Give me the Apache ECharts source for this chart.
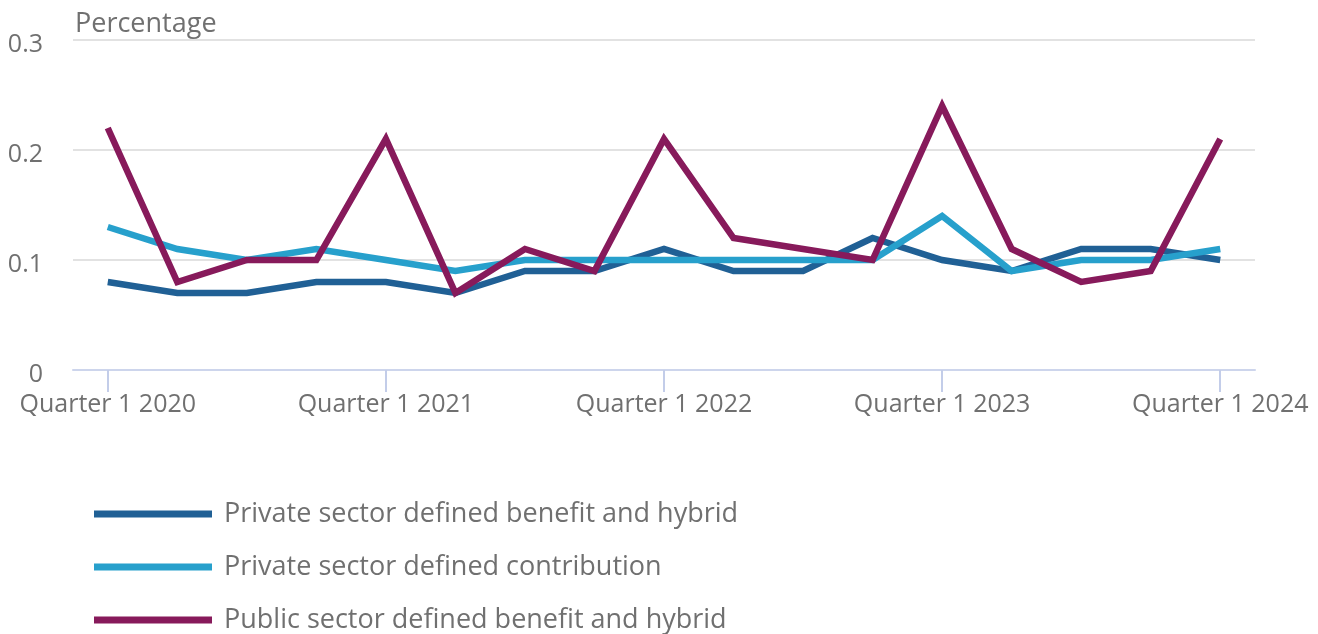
<!DOCTYPE html>
<html>
<head>
<meta charset="utf-8">
<script src="https://cdn.jsdelivr.net/npm/echarts@6/dist/echarts.min.js"></script>
<style>
  html, body { margin: 0; padding: 0; background: #fff; }
  #chart { width: 1318px; height: 634px; }
</style>
</head>
<body>
<div id="chart"></div>
<script>
// quarters Q1 2020 .. Q1 2024
const quarters = [
  'Quarter 1 2020', 'Quarter 2 2020', 'Quarter 3 2020', 'Quarter 4 2020',
  'Quarter 1 2021', 'Quarter 2 2021', 'Quarter 3 2021', 'Quarter 4 2021',
  'Quarter 1 2022', 'Quarter 2 2022', 'Quarter 3 2022', 'Quarter 4 2022',
  'Quarter 1 2023', 'Quarter 2 2023', 'Quarter 3 2023', 'Quarter 4 2023',
  'Quarter 1 2024'
];
const privateDb = [0.08, 0.07, 0.07, 0.08, 0.08, 0.07, 0.09, 0.09, 0.11, 0.09, 0.09, 0.12, 0.10, 0.09, 0.11, 0.11, 0.10];
const privateDc = [0.13, 0.11, 0.10, 0.11, 0.10, 0.09, 0.10, 0.10, 0.10, 0.10, 0.10, 0.10, 0.14, 0.09, 0.10, 0.10, 0.11];
const publicDb  = [0.22, 0.08, 0.10, 0.10, 0.21, 0.07, 0.11, 0.09, 0.21, 0.12, 0.11, 0.10, 0.24, 0.11, 0.08, 0.09, 0.21];
const yTicks = [0, 0.1, 0.2, 0.3];

const names = [
  'Private sector defined benefit and hybrid',
  'Private sector defined contribution',
  'Public sector defined benefit and hybrid'
];
const colors = ['#206095', '#27a0cc', '#871a5b'];
const textColor = '#707070';
const font = '"Open Sans", "Noto Sans", sans-serif';

const chart = echarts.init(document.getElementById('chart'));

function lineSeries(name, data, color) {
  return {
    name,
    type: 'line',
    data,
    symbol: 'none',
    color,
    lineStyle: { width: 6.5, color, join: 'miter' },
    emphasis: { disabled: true }
  };
}

chart.setOption({
  animation: false,
  textStyle: { fontFamily: font },
  title: {
    text: 'Percentage',
    left: 70,
    top: 6,
    textStyle: { color: textColor, fontSize: 27, fontWeight: 'normal', fontFamily: font }
  },
  grid: { left: 73, right: 63, top: 40, height: 330, containLabel: false },
  xAxis: {
    type: 'category',
    data: quarters,
    boundaryGap: true,
    axisLine: { lineStyle: { color: '#cdd5ec', width: 2 } },
    axisTick: {
      show: true,
      alignWithLabel: true,
      interval: 3,
      length: 22,
      lineStyle: { color: '#c3cde9', width: 2 }
    },
    axisLabel: {
      interval: 3,
      color: textColor,
      fontSize: 25,
      fontFamily: font,
      margin: 22,
      showMinLabel: true,
      showMaxLabel: true
    },
    splitLine: { show: false }
  },
  yAxis: {
    type: 'value',
    min: yTicks[0],
    max: yTicks[yTicks.length - 1],
    interval: 0.1,
    axisLine: { show: false },
    axisTick: { show: false },
    axisLabel: {
      color: textColor,
      fontSize: 25,
      fontFamily: font,
      margin: 30,
      verticalAlign: 'top',
      lineHeight: 10
    },
    splitLine: { lineStyle: { color: '#e2e2e2', width: 2 } }
  },
  legend: {
    orient: 'vertical',
    left: 89,
    top: 494,
    height: 220,
    icon: 'rect',
    itemWidth: 118,
    itemHeight: 7,
    itemGap: 23,
    textStyle: { color: textColor, fontSize: 27, lineHeight: 30, fontFamily: font, padding: [0, 0, 0, 7] },
    data: names
  },
  series: [
    lineSeries(names[0], privateDb, colors[0]),
    lineSeries(names[1], privateDc, colors[1]),
    lineSeries(names[2], publicDb, colors[2])
  ]
});
</script>
</body>
</html>
